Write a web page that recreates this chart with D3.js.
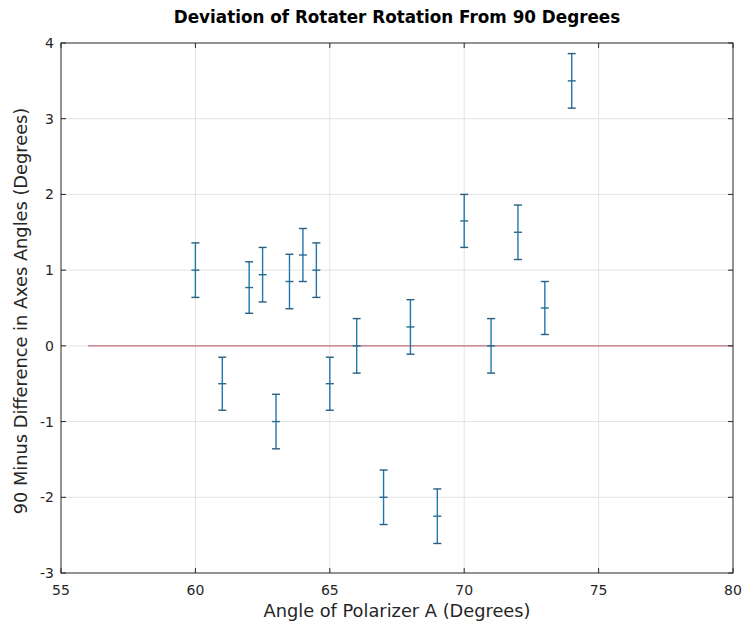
<!DOCTYPE html>
<html>
<head>
<meta charset="utf-8">
<script src="https://cdn.jsdelivr.net/npm/d3@7"></script>
<style>
  body { margin: 0; background: #fff; }
  svg text { font-family: "DejaVu Sans", sans-serif; fill: #262626; }
</style>
</head>
<body>
<div id="chart"></div>
<script>
"use strict"

// polarizer angles and measured offsets from 90 degrees
const angles = [60, 61, 62, 62.5, 63, 63.5, 64, 64.5, 65, 66, 67, 68, 69, 70, 71, 72, 73, 74];
const deviations = [1.0, -0.5, 0.77, 0.94, -1.0, 0.85, 1.2, 1.0, -0.5, 0.0, -2.0, 0.25, -2.25, 1.65, 0.0, 1.5, 0.5, 3.5];
const errors = [0.36, 0.35, 0.34, 0.36, 0.36, 0.36, 0.35, 0.36, 0.35, 0.36, 0.36, 0.36, 0.36, 0.35, 0.36, 0.36, 0.35, 0.36];

const xTicks = [55, 60, 65, 70, 75, 80];
const yTicks = [-3, -2, -1, 0, 1, 2, 3, 4];
const zeroLine = [56, 80];

const width = 743, height = 626;
const margin = { top: 43, right: 10, bottom: 53, left: 61 };
const innerW = width - margin.left - margin.right;
const innerH = height - margin.top - margin.bottom;

const svg = d3.select("#chart").append("svg")
    .attr("width", width)
    .attr("height", height);

const g = svg.append("g")
    .attr("transform", `translate(${margin.left},${margin.top})`);

const x = d3.scaleLinear().domain([55, 80]).range([0, innerW]);
const y = d3.scaleLinear().domain([-3, 4]).range([innerH, 0]);

/* grid */
g.selectAll(".xgrid").data(xTicks.slice(1, -1)).enter().append("line")
    .attr("x1", d => x(d)).attr("x2", d => x(d))
    .attr("y1", 0).attr("y2", innerH)
    .attr("stroke", "#e3e3e3").attr("stroke-width", 1);

g.selectAll(".ygrid").data(yTicks.slice(1, -1)).enter().append("line")
    .attr("x1", 0).attr("x2", innerW)
    .attr("y1", d => y(d)).attr("y2", d => y(d))
    .attr("stroke", "#e3e3e3").attr("stroke-width", 1);

/* reference line at zero */
g.append("line")
    .attr("x1", x(zeroLine[0])).attr("x2", x(zeroLine[1]))
    .attr("y1", y(0)).attr("y2", y(0))
    .attr("stroke", "#c2707c").attr("stroke-width", 1.2);

/* error bars */
const bars = g.selectAll(".bar").data(angles.map((a, i) => ({ a, v: deviations[i], e: errors[i] })))
    .enter().append("g");

bars.append("line")
    .attr("x1", d => x(d.a)).attr("x2", d => x(d.a))
    .attr("y1", d => y(d.v + d.e)).attr("y2", d => y(d.v - d.e))
    .attr("stroke", "#1f77b0").attr("stroke-width", 1.4);

const cap = 4;
[d => d.v + d.e, d => d.v - d.e].forEach(fn => {
    bars.append("line")
        .attr("x1", d => x(d.a) - cap).attr("x2", d => x(d.a) + cap)
        .attr("y1", d => y(fn(d))).attr("y2", d => y(fn(d)))
        .attr("stroke", "#2a5d7f").attr("stroke-width", 1.4);
});

bars.append("line")
    .attr("x1", d => x(d.a) - cap).attr("x2", d => x(d.a) + cap)
    .attr("y1", d => y(d.v)).attr("y2", d => y(d.v))
    .attr("stroke", "#2a6a90").attr("stroke-width", 1.4);

/* axes box with inward ticks */
const axisColor = "#262626";
g.append("rect")
    .attr("width", innerW).attr("height", innerH)
    .attr("fill", "none").attr("stroke", axisColor).attr("stroke-width", 1);

const tickLen = 5;
xTicks.forEach(t => {
    g.append("line").attr("x1", x(t)).attr("x2", x(t)).attr("y1", innerH).attr("y2", innerH - tickLen).attr("stroke", axisColor);
    g.append("line").attr("x1", x(t)).attr("x2", x(t)).attr("y1", 0).attr("y2", tickLen).attr("stroke", axisColor);
    g.append("text").attr("x", x(t)).attr("y", innerH + 22)
        .attr("text-anchor", "middle").style("font-size", "14px").text(t);
});
yTicks.forEach(t => {
    g.append("line").attr("x1", 0).attr("x2", tickLen).attr("y1", y(t)).attr("y2", y(t)).attr("stroke", axisColor);
    g.append("line").attr("x1", innerW).attr("x2", innerW - tickLen).attr("y1", y(t)).attr("y2", y(t)).attr("stroke", axisColor);
    g.append("text").attr("x", -7).attr("y", y(t) + 5)
        .attr("text-anchor", "end").style("font-size", "14px").text(t);
});

/* labels */
svg.append("text")
    .attr("x", margin.left + innerW / 2).attr("y", 23)
    .attr("text-anchor", "middle")
    .style("font-size", "16.8px").style("font-weight", "bold").style("fill", "#000")
    .text("Deviation of Rotater Rotation From 90 Degrees");

svg.append("text")
    .attr("x", margin.left + innerW / 2).attr("y", 617)
    .attr("text-anchor", "middle").style("font-size", "17.8px")
    .text("Angle of Polarizer A (Degrees)");

svg.append("text")
    .attr("transform", `translate(27,${margin.top + innerH / 2 + 3}) rotate(-90)`)
    .attr("text-anchor", "middle").style("font-size", "17.8px")
    .text("90 Minus Difference in Axes Angles (Degrees)");
</script>
</body>
</html>
